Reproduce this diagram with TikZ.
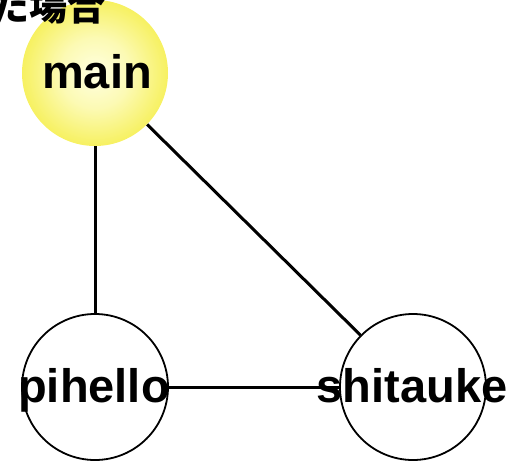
\documentclass[tikz,border=0pt]{standalone}
\usepackage{fontspec}
\setmainfont{Liberation Sans}
\newfontfamily\cjkfont{Noto Sans CJK JP}
\definecolor{ballinner}{RGB}{255,255,225}
\definecolor{ballouter}{RGB}{240,230,0}
\pgfdeclareradialshading{yellowball}{\pgfpoint{0bp}{0bp}}{color(0bp)=(ballinner); color(12bp)=(ballinner!80!ballouter); color(40bp)=(ballouter); color(50bp)=(ballouter)}
\tikzset{
  vert/.style={circle, minimum size=146pt, inner sep=0pt, draw=black, line width=1.8pt, fill=white},
  ball/.style={circle, minimum size=146pt, inner sep=0pt, shading=yellowball},
  lbl/.style={font=\fontsize{47}{47}\bfseries\selectfont, anchor=base, inner sep=0pt},
  edge/.style={line width=3pt, black}
}
\begin{document}
\begin{tikzpicture}[x=1pt,y=-1pt]
\useasboundingbox (0,0) rectangle (511,461);
\node[ball] (main) at (95,73) {};
\node[vert] (pihello) at (95,387) {};
\node[vert] (shitauke) at (413,387) {};
\draw[edge] (main) -- (pihello);
\draw[edge] (main) -- (shitauke);
\draw[edge] (pihello) -- (shitauke);
\node[lbl] (tmain) at (97,88) {main};
\node[lbl] (tpihello) at (94,402) {pihello};
\node[lbl] (tshitauke) at (412,402) {shitauke};
\node[font=\fontsize{38}{38}\cjkfont\bfseries\selectfont, anchor=base east, inner sep=0pt] (title) at (106,20) {た場合};
\end{tikzpicture}
\end{document}
